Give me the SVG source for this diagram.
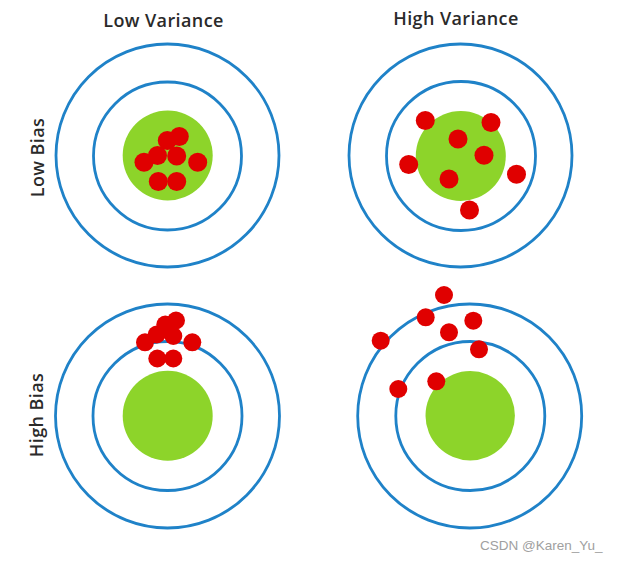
<svg xmlns="http://www.w3.org/2000/svg" width="619" height="561" viewBox="0 0 619 561">
<style>
.ring{fill:none;stroke:#1f82c8;stroke-width:2.8}
.bull{fill:#8dd42a}
.hit{fill:#e00000}
.lbl{font-family:"Open Sans","Liberation Sans",sans-serif;font-weight:600;font-size:18px;letter-spacing:0.4px;fill:#2a2a2a}
.wm{font-family:"Liberation Sans",Arial,sans-serif;font-size:13.5px;fill:#a0a0a0}
</style>
<rect width="619" height="561" fill="#fff"/>
<g id="labels">
<text class="lbl" x="163.5" y="27" text-anchor="middle">Low Variance</text>
<text class="lbl" x="456" y="24.5" text-anchor="middle">High Variance</text>
<text class="lbl" transform="translate(43.5,157.5) rotate(-90)" text-anchor="middle">Low Bias</text>
<text class="lbl" transform="translate(42.5,415) rotate(-90)" text-anchor="middle">High Bias</text>
</g>
<g id="target-lowbias-lowvar">
<circle class="ring" cx="167.5" cy="155.5" r="111.5"/>
<circle class="ring" cx="167.5" cy="156" r="74"/>
<circle class="bull" cx="167.7" cy="155.5" r="45"/>
<circle class="hit" cx="179.3" cy="136.5" r="9.5"/>
<circle class="hit" cx="167.3" cy="140.5" r="9.5"/>
<circle class="hit" cx="157.5" cy="155.5" r="9.5"/>
<circle class="hit" cx="144" cy="162.3" r="9.5"/>
<circle class="hit" cx="176.7" cy="156" r="9.5"/>
<circle class="hit" cx="197.7" cy="162.3" r="9.5"/>
<circle class="hit" cx="158.3" cy="181.5" r="9.5"/>
<circle class="hit" cx="176.7" cy="181.5" r="9.5"/>
</g>
<g id="target-lowbias-highvar">
<circle class="ring" cx="460.5" cy="155.5" r="111.5"/>
<circle class="ring" cx="461" cy="156" r="74.5"/>
<circle class="bull" cx="460.8" cy="156" r="45"/>
<circle class="hit" cx="425.3" cy="120.5" r="9.5"/>
<circle class="hit" cx="491" cy="122.5" r="9.5"/>
<circle class="hit" cx="458" cy="139" r="9.5"/>
<circle class="hit" cx="484" cy="155.3" r="9.5"/>
<circle class="hit" cx="408.7" cy="164.5" r="9.5"/>
<circle class="hit" cx="516.5" cy="174.3" r="9.5"/>
<circle class="hit" cx="449" cy="179" r="9.5"/>
<circle class="hit" cx="469.5" cy="210" r="9.5"/>
</g>
<g id="target-highbias-lowvar">
<circle class="ring" cx="167.5" cy="416" r="112"/>
<circle class="ring" cx="167.5" cy="416" r="74.5"/>
<circle class="bull" cx="167.7" cy="415.7" r="45"/>
<circle class="hit" cx="176" cy="320.5" r="9"/>
<circle class="hit" cx="165.3" cy="324.5" r="9"/>
<circle class="hit" cx="156.7" cy="334.5" r="9"/>
<circle class="hit" cx="173.3" cy="336" r="9"/>
<circle class="hit" cx="145" cy="342.3" r="9"/>
<circle class="hit" cx="192.3" cy="342.3" r="9"/>
<circle class="hit" cx="157.3" cy="358.5" r="9"/>
<circle class="hit" cx="173.3" cy="358.5" r="9"/>
</g>
<g id="target-highbias-highvar">
<circle class="ring" cx="469.7" cy="416" r="112"/>
<circle class="ring" cx="470.3" cy="416" r="74.5"/>
<circle class="bull" cx="470.2" cy="415.7" r="44.7"/>
<circle class="hit" cx="444" cy="295" r="9"/>
<circle class="hit" cx="425.7" cy="317.3" r="9"/>
<circle class="hit" cx="473.3" cy="320.7" r="9"/>
<circle class="hit" cx="449" cy="332.3" r="9"/>
<circle class="hit" cx="380.7" cy="340.7" r="9"/>
<circle class="hit" cx="479" cy="349.3" r="9"/>
<circle class="hit" cx="398.3" cy="389" r="9"/>
<circle class="hit" cx="436.3" cy="381.3" r="9"/>
</g>
<g id="connectors"/>
<text class="wm" x="480" y="550">CSDN @Karen_Yu_</text>
</svg>
